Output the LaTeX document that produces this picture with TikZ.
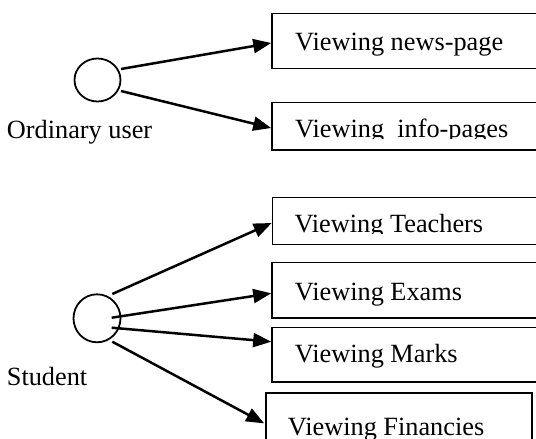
\documentclass[tikz,border=0pt]{standalone}
\usepackage{fontspec}
\setmainfont{Liberation Serif}
\usetikzlibrary{arrows.meta,shapes.geometric}
\begin{document}
\begin{tikzpicture}[x=1pt,y=-1pt,
  font=\fontsize{26.3}{30}\selectfont,
  usecase/.style={draw,line width=1.6pt,inner sep=0,rectangle},
  actor/.style={draw,ellipse,line width=1.8pt,inner sep=0},
  txt/.style={anchor=base west,inner sep=0},
  arr/.style={line width=2.5pt,-{Triangle[length=18pt,width=14pt]}}]
\path[use as bounding box,clip] (0,0) rectangle (536,439);
\fill[white] (0,0) rectangle (536,439);

% actors
\node[actor,minimum width=46pt,minimum height=43pt] (u1) at (97.5,80) {};
\node[actor,minimum width=47pt,minimum height=48pt] (u2) at (97,318.3) {};
\node[txt] (l1) at (6.7,138.3) {Ordinary user};
\node[txt] (l2) at (6.7,385.7) {Student};

% use cases
\node[usecase,minimum width=273pt,minimum height=55pt] (b1) at (408.5,40.8) {};
\node[usecase,minimum width=273pt,minimum height=47.7pt] (b2) at (408.5,126.2) {};
\node[usecase,minimum width=272.5pt,minimum height=47pt] (b3) at (408.75,220.8) {};
\node[usecase,minimum width=273pt,minimum height=55.4pt] (b4) at (408.5,290) {};
\node[usecase,minimum width=273pt,minimum height=54.4pt] (b5) at (408.5,354.5) {};
\node[usecase,minimum width=266pt,minimum height=67.3pt] (b6) at (399,426.35) {};

\node[txt] (t1) at (295,50) {Viewing news-page};
\begin{scope}
  \clip (280,100) rectangle (536,138.2);
  \node[txt] (t2) at (295,137) {Viewing\ \ info-pages};
\end{scope}
\begin{scope}
  \clip (280,195) rectangle (536,233.6);
  \node[txt] (t3) at (294.3,232.4) {Viewing Teachers};
\end{scope}
\node[txt] (t4) at (294.7,300) {Viewing Exams};
\node[txt] (t5) at (294.7,362.3) {Viewing Marks};
\node[txt] (t6) at (287.7,435.7) {Viewing Financies};

% associations
\draw[arr] ([shift={(23.5,-11)}]u1.center) -- ([shift={(0,2.2)}]b1.west);
\draw[arr] ([shift={(23.5,11)}]u1.center) -- ([shift={(0,1.8)}]b2.west);
\draw[arr] ([shift={(15.3,-24.3)}]u2.center) -- ([shift={(0,2.2)}]b3.west);
\draw[arr] ([shift={(14.7,-0.6)}]u2.center) -- ([shift={(0,3.3)}]b4.west);
\draw[arr] ([shift={(14.7,9.4)}]u2.center) -- ([shift={(0,-12.8)}]b5.west);
\draw[arr] ([shift={(15.3,23.4)}]u2.center) -- ([shift={(-1,-3)}]b6.west);
\end{tikzpicture}
\end{document}
